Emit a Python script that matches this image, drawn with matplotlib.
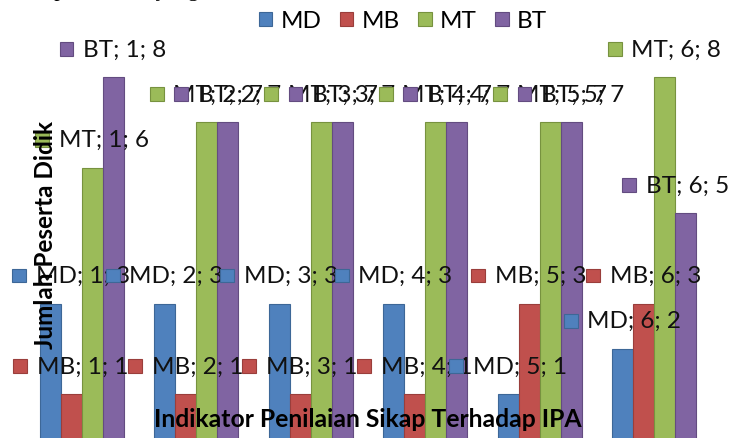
import numpy as np
import matplotlib
matplotlib.use("Agg")
import matplotlib.pyplot as plt
from matplotlib.patches import Patch, Rectangle
from matplotlib.offsetbox import AnnotationBbox, DrawingArea, HPacker, TextArea

# Chart data
categories = [1, 2, 3, 4, 5, 6]
series_names = ["MD", "MB", "MT", "BT"]
md_values = [3, 3, 3, 3, 1, 2]
mb_values = [1, 1, 1, 1, 3, 3]
mt_values = [6, 7, 7, 7, 7, 8]
bt_values = [8, 7, 7, 7, 7, 5]

x_title = "Indikator Penilaian Sikap Terhadap IPA"
y_title = "Jumlah Peserta Didik"
page_text = "Tampak bahwa yang"

colors = ["#4F81BD", "#C0504D", "#9BBB59", "#8064A2"]
edge_colors = ["#3D6797", "#9A3E3B", "#77923F", "#634C80"]

FONT = "Lato"
FS = 17.5
W_PX, H_PX = 731, 439


def make_chart():
    series_values = [md_values, mb_values, mt_values, bt_values]

    fig = plt.figure(figsize=(W_PX / 100, H_PX / 100), dpi=100)
    ax = fig.add_axes([0, 0, 1, 1])
    ax.axis("off")

    # Scale: category spacing ~114.5px, one unit ~45.3px, zero just below the crop
    group_px, unit_px = 114.5, 45.3
    first_px, zero_px = 81.5, 440.5
    ax.set_xlim(-first_px / group_px, (W_PX - first_px) / group_px)
    ax.set_ylim((zero_px - H_PX) / unit_px, zero_px / unit_px)

    x = np.arange(len(categories))
    width = 21 / group_px
    for s, vals in enumerate(series_values):
        ax.bar(x + (s - 1.5) * width, vals, width, color=colors[s],
               edgecolor=edge_colors[s], linewidth=0.8, zorder=2)

    # Data labels with legend keys ("MD; 1; 3"), centred over each bar
    boxes = []
    z = 3
    for i, cat in enumerate(categories):
        for s, name in enumerate(series_names):
            v = series_values[s][i]
            key = DrawingArea(10, 10, 0, 0)
            key.add_artist(Rectangle((0, 0), 10, 10, facecolor=colors[s],
                                     edgecolor=edge_colors[s], linewidth=0.8))
            txt = TextArea(f"{name}; {cat}; {v}",
                           textprops=dict(fontsize=FS, family=FONT, color="#111111"))
            pack = HPacker(children=[key, txt], align="center", pad=0, sep=7)
            ab = AnnotationBbox(pack, (x[i] + (s - 1.5) * width, v + 0.62),
                                xybox=(0, 0), boxcoords="offset points",
                                frameon=False, box_alignment=(0.5, 0.5),
                                pad=0, zorder=z)
            ax.add_artist(ab)
            boxes.append(ab)
            z += 0.01

    # Keep labels inside the chart area like Excel does
    fig.canvas.draw()
    renderer = fig.canvas.get_renderer()
    for ab in boxes:
        bb = ab.get_window_extent(renderer)
        dx = 0
        if bb.x0 < 12:
            dx = 12 - bb.x0
        elif bb.x1 > 729:
            dx = 729 - bb.x1
        ab.xybox = (dx * 72 / 100, 0)

    handles = [Patch(facecolor=c, edgecolor=e, linewidth=0.8)
               for c, e in zip(colors, edge_colors)]
    fig.legend(handles, series_names, loc="center",
               bbox_to_anchor=(403 / W_PX, 1 - 22 / H_PX), ncol=4, frameon=False,
               prop=dict(family=FONT, size=FS), handlelength=0.55,
               handleheight=0.55, handletextpad=0.35, columnspacing=0.75,
               borderaxespad=0, borderpad=0)

    fig.text(46 / W_PX, 1 - 235 / H_PX, y_title, rotation=90, ha="center",
             va="center", fontsize=FS, fontweight="bold", family=FONT, zorder=10)
    fig.text(367.5 / W_PX, 1 - 420 / H_PX, x_title, ha="center", va="center",
             fontsize=17.8, fontweight="bold", family=FONT, zorder=10)

    # Bit of the document text above the chart; only its descenders show
    fig.text(15 / W_PX, 1 + 4 / H_PX, page_text, ha="left", va="baseline",
             fontsize=16, family="Liberation Serif", color="black")

    fig.savefig("out.png", dpi=100)


if __name__ == "__main__":
    make_chart()
